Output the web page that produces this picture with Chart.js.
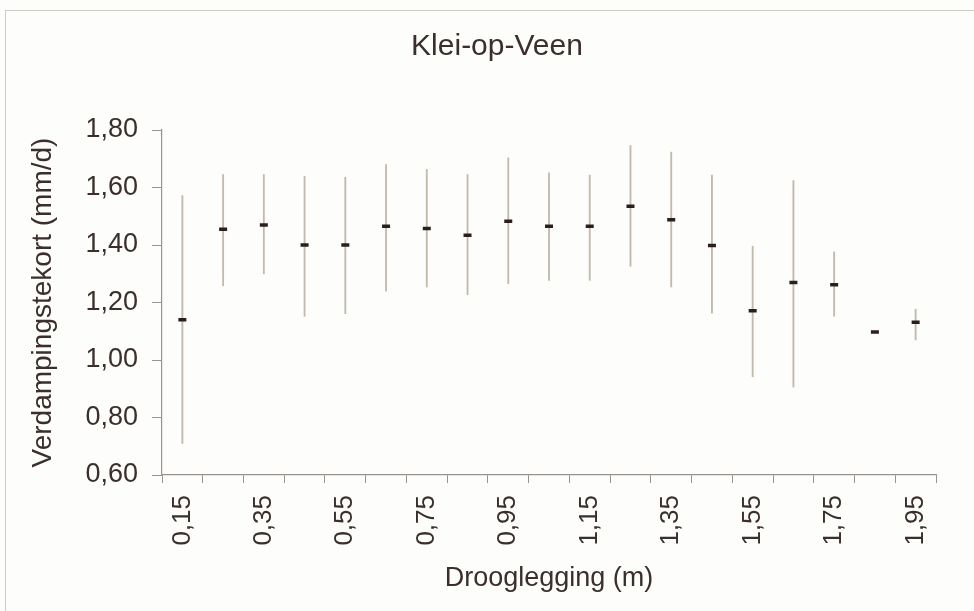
<!DOCTYPE html>
<html>
<head>
<meta charset="utf-8">
<script src="https://cdn.jsdelivr.net/npm/chart.js@4/dist/chart.umd.min.js"></script>
<style>
  body{margin:0;background:#fdfdfb;}
  .frame{position:absolute;left:5px;top:10px;width:990px;height:620px;border:1px solid #cfcac4;}
  canvas{position:absolute;left:0;top:0;}
</style>
</head>
<body>
<div class="frame"></div>
<canvas id="myChart" width="974" height="611"></canvas>
<script>
// drooglegging classes (m)
const labels=['0,15','0,25','0,35','0,45','0,55','0,65','0,75','0,85','0,95','1,05','1,15','1,25','1,35','1,45','1,55','1,65','1,75','1,85','1,95'];
// mean verdampingstekort (mm/d)
const meanValues=[1.14,1.455,1.47,1.40,1.40,1.465,1.457,1.434,1.483,1.465,1.465,1.535,1.488,1.398,1.171,1.27,1.262,1.097,1.131];
// min / max of each class
const minValues=[0.71,1.258,1.30,1.152,1.161,1.239,1.254,1.227,1.265,1.277,1.277,1.326,1.254,1.163,0.942,0.906,1.152,null,1.07];
const maxValues=[1.572,1.645,1.645,1.639,1.636,1.68,1.663,1.645,1.703,1.651,1.643,1.746,1.723,1.643,1.395,1.624,1.376,null,1.177];
const yTicks=[0.6,0.8,1.0,1.2,1.4,1.6,1.8];
const titleText='Klei-op-Veen';

const ranges=minValues.map((v,i)=>v==null?null:[v,maxValues[i]]);
const fontFam="'Liberation Sans', Arial, sans-serif";
const axisCol='#9a9490';
const textCol='#3a2f2c';

// title centred on the frame, not on the canvas
const frameTitle={
  id:'frameTitle',
  afterDraw(chart){
    const c=chart.ctx;
    c.save();
    c.font='30px '+fontFam;
    c.fillStyle=textCol;
    c.textAlign='center';
    c.textBaseline='middle';
    c.fillText(titleText,497,47);
    c.restore();
  }
};

const ctx=document.getElementById('myChart').getContext('2d');
const myChart=new Chart(ctx,{
  type:'bar',
  data:{
    labels:labels,
    datasets:[
      {
        label:'bereik',
        data:ranges,
        backgroundColor:'#c2baab',
        barThickness:1.2,
        order:2
      },
      {
        type:'line',
        label:'gemiddelde',
        data:meanValues,
        showLine:false,
        pointStyle:'line',
        pointRadius:4,
        pointBorderWidth:3.5,
        borderColor:'#2b1e1c',
        backgroundColor:'#2b1e1c',
        order:1
      }
    ]
  },
  options:{
    responsive:false,
    animation:false,
    layout:{padding:{left:26,right:38,top:130,bottom:12}},
    plugins:{
      legend:{display:false},
      tooltip:{enabled:false}
    },
    scales:{
      x:{
        grid:{drawOnChartArea:false,drawTicks:true,tickLength:8,color:axisCol,offset:true},
        border:{color:axisCol,width:1.2},
        ticks:{
          autoSkip:false,
          maxRotation:90,
          minRotation:90,
          padding:12,
          color:textCol,
          font:{family:fontFam,size:26},
          callback:function(val,index){return index%2===0?this.getLabelForValue(val):'';}
        },
        title:{
          display:true,
          text:'Drooglegging (m)',
          color:textCol,
          font:{family:fontFam,size:27},
          padding:{top:4,bottom:4}
        },
        afterFit:function(scale){scale.height=124;}
      },
      y:{
        min:0.6,
        max:1.8,
        afterBuildTicks:function(scale){scale.ticks=yTicks.map(v=>({value:v}));},
        grid:{drawOnChartArea:false,drawTicks:true,tickLength:10,color:axisCol},
        border:{color:axisCol,width:1.2},
        ticks:{
          padding:14,
          color:textCol,
          font:{family:fontFam,size:27},
          callback:v=>v.toFixed(2).replace('.',',')
        },
        title:{
          display:true,
          text:'Verdampingstekort (mm/d)',
          color:textCol,
          font:{family:fontFam,size:28},
          padding:{top:0,bottom:2}
        },
        afterFit:function(scale){scale.width=136;}
      }
    }
  },
  plugins:[frameTitle]
});
</script>
</body>
</html>
